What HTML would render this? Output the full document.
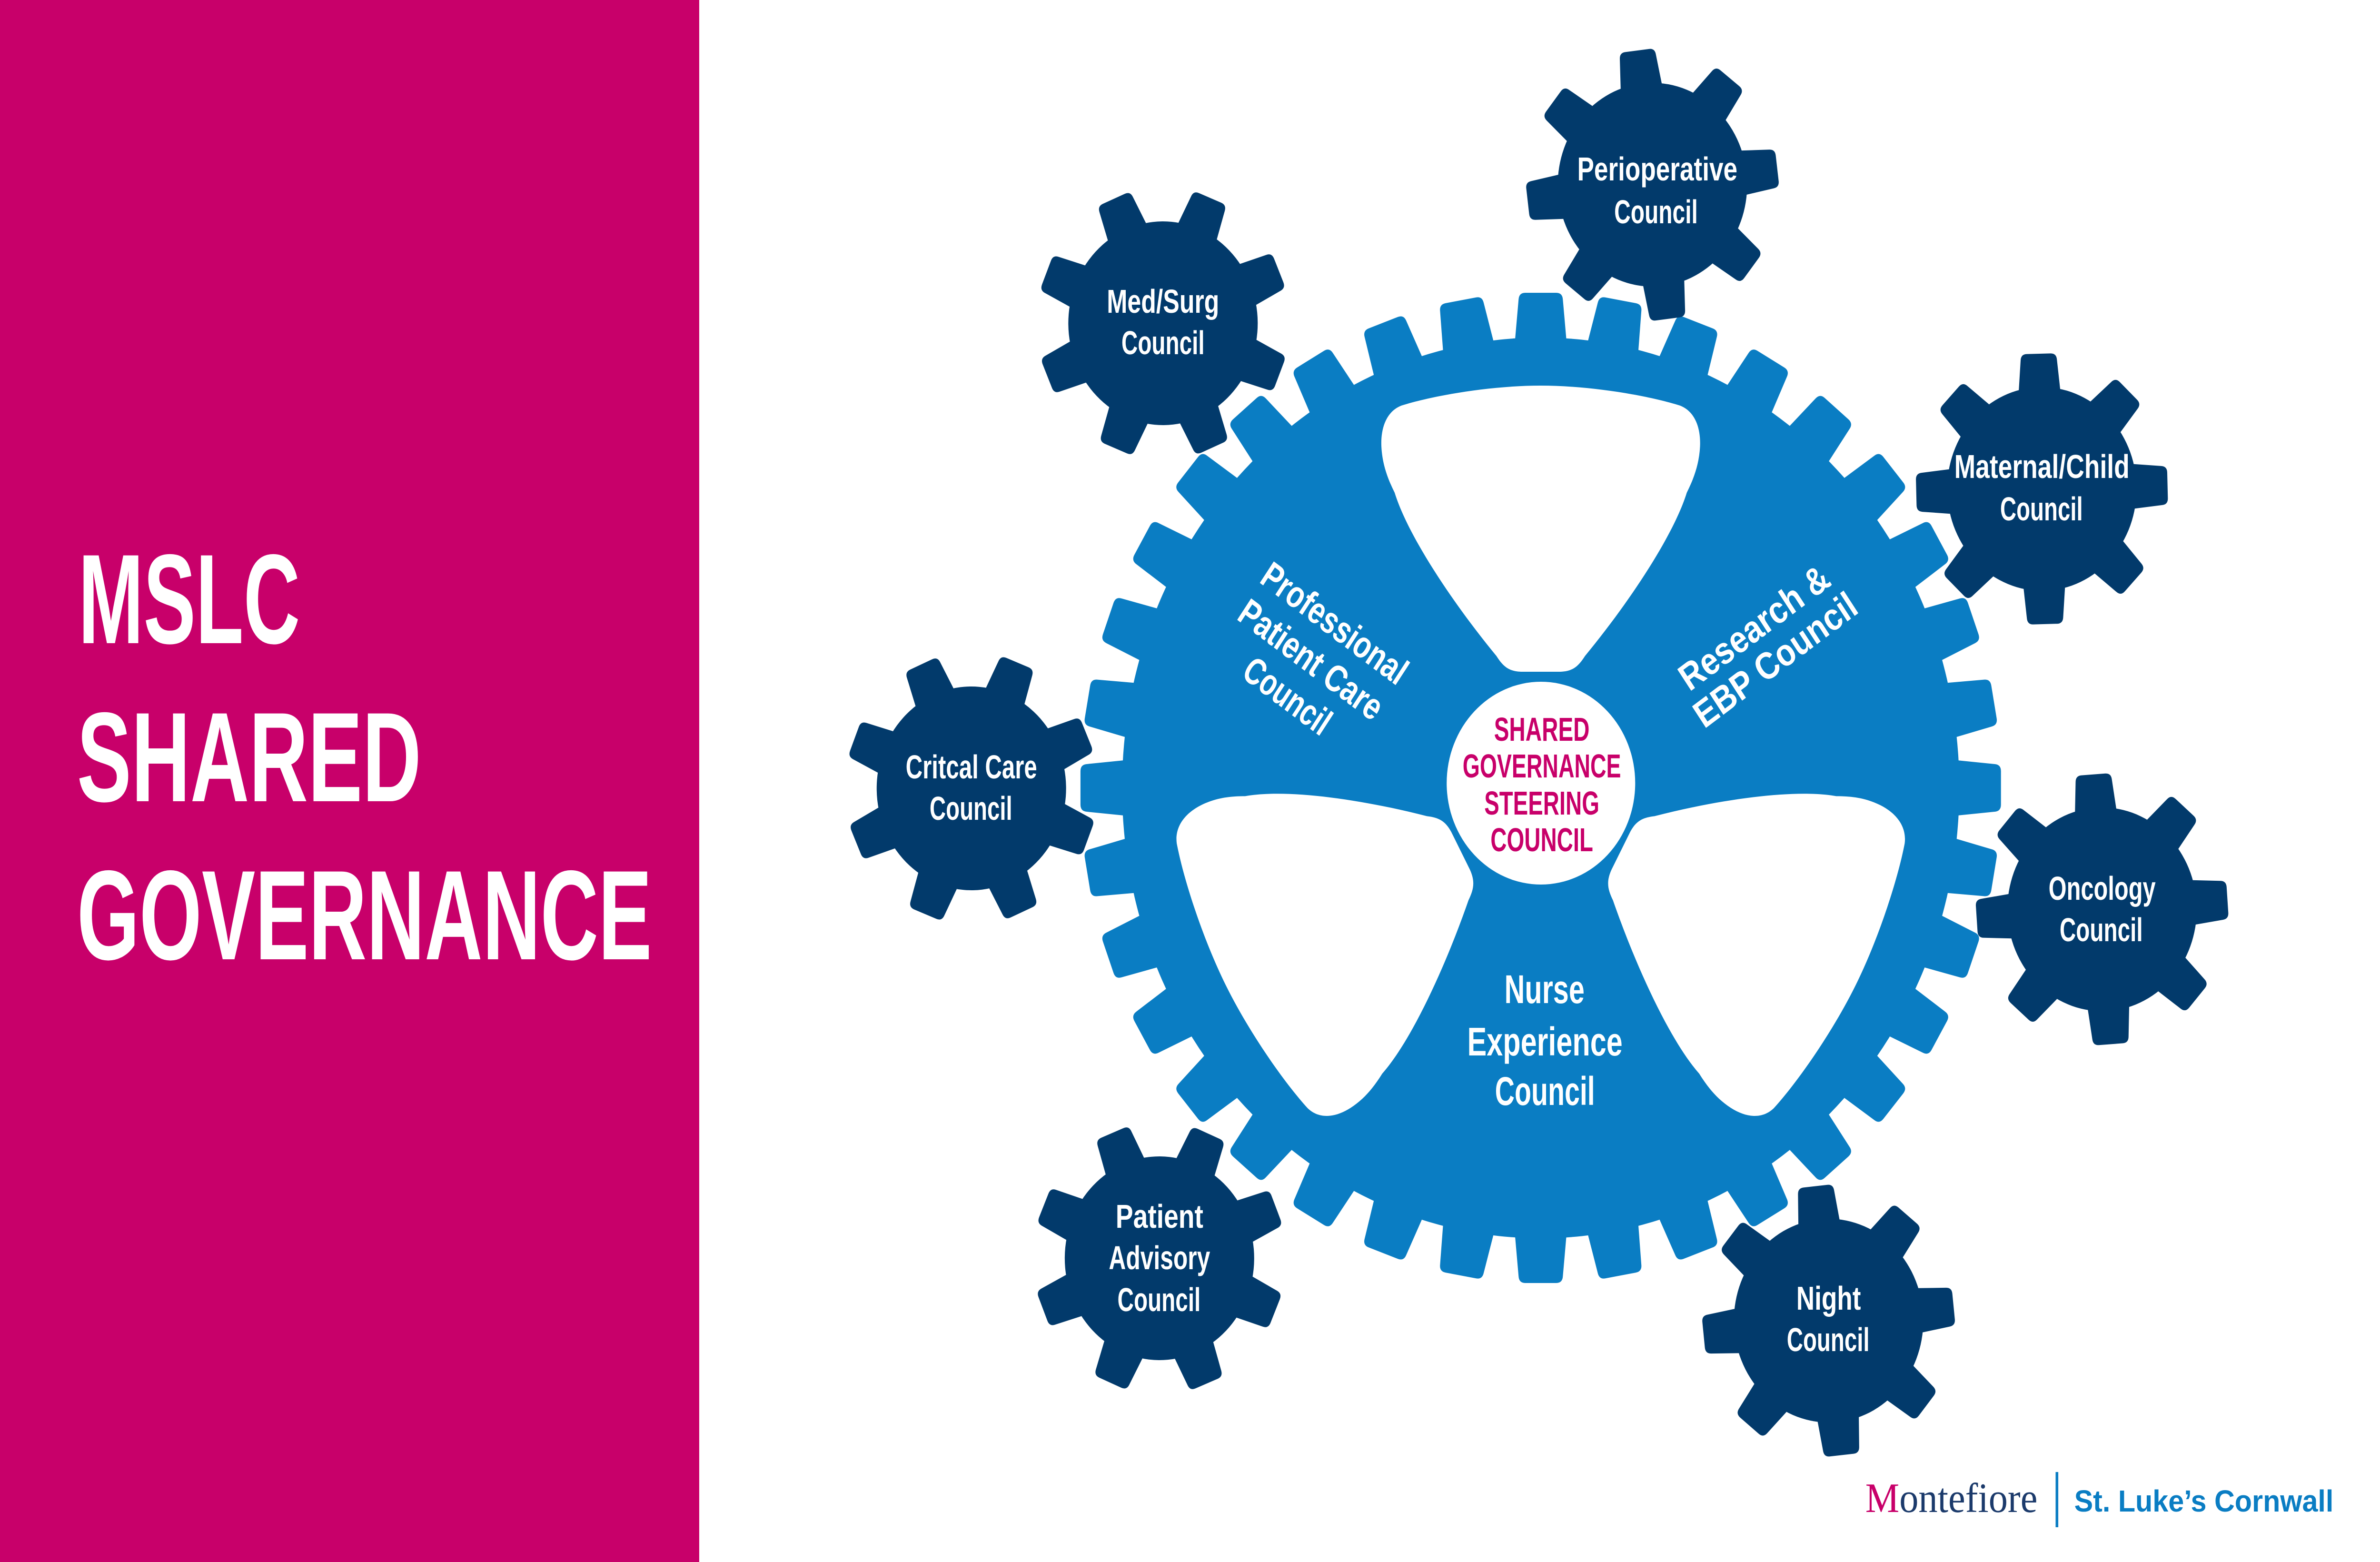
<!DOCTYPE html>
<html>
<head>
<meta charset="utf-8">
<style>
html,body{margin:0;padding:0;width:100%;height:100%;overflow:hidden;background:#ffffff;}
svg{display:block;width:100vw;height:100vh;}
.t{font-family:"Liberation Sans",Arial,sans-serif;font-weight:bold;fill:#ffffff;text-anchor:middle;}
.m{font-family:"Liberation Sans",Arial,sans-serif;font-weight:bold;fill:#c8006a;text-anchor:middle;}
</style>
</head>
<body>
<svg viewBox="0 0 5378 3281" preserveAspectRatio="none" xmlns="http://www.w3.org/2000/svg" xmlns:xlink="http://www.w3.org/1999/xlink">
<defs>
  <path id="bt" d="M3421.5,735 L3431.5,629 Q3432.5,615 3446.5,615 L3516.5,615 Q3530.5,615 3531.5,629 L3541.5,735 Z"/>
  <path id="st" d="M952,805 L959,729 Q960,716 973,716 L1027,716 Q1040,716 1041,729 L1048,805 Z"/>
  <g id="sg" fill="#023a6b">
    <circle cx="1000" cy="1000" r="214"/>
    <use href="#st" xlink:href="#st"/>
    <use href="#st" xlink:href="#st" transform="rotate(45 1000 1000)"/>
    <use href="#st" xlink:href="#st" transform="rotate(90 1000 1000)"/>
    <use href="#st" xlink:href="#st" transform="rotate(135 1000 1000)"/>
    <use href="#st" xlink:href="#st" transform="rotate(180 1000 1000)"/>
    <use href="#st" xlink:href="#st" transform="rotate(225 1000 1000)"/>
    <use href="#st" xlink:href="#st" transform="rotate(270 1000 1000)"/>
    <use href="#st" xlink:href="#st" transform="rotate(315 1000 1000)"/>
  </g>
  <path id="hole" d="M3481.5,810 C3591.5,810 3721.5,830 3796.5,852 C3829.5,864 3843.5,898 3841.5,938 C3839.5,975 3827.5,1005 3811.5,1035 C3781.5,1125 3681.5,1265 3581.5,1378 C3566.5,1400 3553.5,1410 3526.5,1411 L3436.5,1411 C3409.5,1410 3396.5,1400 3381.5,1378 C3281.5,1265 3181.5,1125 3151.5,1035 C3135.5,1005 3123.5,975 3121.5,938 C3119.5,898 3133.5,864 3166.5,852 C3241.5,830 3371.5,810 3481.5,810 Z"/>
</defs>

<!-- Left magenta panel -->
<rect x="0" y="0" width="1580" height="3281" fill="#c8006a"/>
<text x="177" y="1351" font-family="Liberation Sans, Arial, sans-serif" font-weight="bold" font-size="268" fill="#ffffff" textLength="501" lengthAdjust="spacingAndGlyphs">MSLC</text>
<text x="174" y="1683" font-family="Liberation Sans, Arial, sans-serif" font-weight="bold" font-size="268" fill="#ffffff" textLength="778" lengthAdjust="spacingAndGlyphs">SHARED</text>
<text x="174" y="2015" font-family="Liberation Sans, Arial, sans-serif" font-weight="bold" font-size="268" fill="#ffffff" textLength="1299" lengthAdjust="spacingAndGlyphs">GOVERNANCE</text>

<!-- Big gear -->
<g fill="#0a7dc3">
  <circle cx="3481.5" cy="1655" r="946"/>
  <use href="#bt" xlink:href="#bt"/>
  <use href="#bt" xlink:href="#bt" transform="rotate(10 3481.5 1655)"/>
  <use href="#bt" xlink:href="#bt" transform="rotate(20 3481.5 1655)"/>
  <use href="#bt" xlink:href="#bt" transform="rotate(30 3481.5 1655)"/>
  <use href="#bt" xlink:href="#bt" transform="rotate(40 3481.5 1655)"/>
  <use href="#bt" xlink:href="#bt" transform="rotate(50 3481.5 1655)"/>
  <use href="#bt" xlink:href="#bt" transform="rotate(60 3481.5 1655)"/>
  <use href="#bt" xlink:href="#bt" transform="rotate(70 3481.5 1655)"/>
  <use href="#bt" xlink:href="#bt" transform="rotate(80 3481.5 1655)"/>
  <use href="#bt" xlink:href="#bt" transform="rotate(90 3481.5 1655)"/>
  <use href="#bt" xlink:href="#bt" transform="rotate(100 3481.5 1655)"/>
  <use href="#bt" xlink:href="#bt" transform="rotate(110 3481.5 1655)"/>
  <use href="#bt" xlink:href="#bt" transform="rotate(120 3481.5 1655)"/>
  <use href="#bt" xlink:href="#bt" transform="rotate(130 3481.5 1655)"/>
  <use href="#bt" xlink:href="#bt" transform="rotate(140 3481.5 1655)"/>
  <use href="#bt" xlink:href="#bt" transform="rotate(150 3481.5 1655)"/>
  <use href="#bt" xlink:href="#bt" transform="rotate(160 3481.5 1655)"/>
  <use href="#bt" xlink:href="#bt" transform="rotate(170 3481.5 1655)"/>
  <use href="#bt" xlink:href="#bt" transform="rotate(180 3481.5 1655)"/>
  <use href="#bt" xlink:href="#bt" transform="rotate(190 3481.5 1655)"/>
  <use href="#bt" xlink:href="#bt" transform="rotate(200 3481.5 1655)"/>
  <use href="#bt" xlink:href="#bt" transform="rotate(210 3481.5 1655)"/>
  <use href="#bt" xlink:href="#bt" transform="rotate(220 3481.5 1655)"/>
  <use href="#bt" xlink:href="#bt" transform="rotate(230 3481.5 1655)"/>
  <use href="#bt" xlink:href="#bt" transform="rotate(240 3481.5 1655)"/>
  <use href="#bt" xlink:href="#bt" transform="rotate(250 3481.5 1655)"/>
  <use href="#bt" xlink:href="#bt" transform="rotate(260 3481.5 1655)"/>
  <use href="#bt" xlink:href="#bt" transform="rotate(270 3481.5 1655)"/>
  <use href="#bt" xlink:href="#bt" transform="rotate(280 3481.5 1655)"/>
  <use href="#bt" xlink:href="#bt" transform="rotate(290 3481.5 1655)"/>
  <use href="#bt" xlink:href="#bt" transform="rotate(300 3481.5 1655)"/>
  <use href="#bt" xlink:href="#bt" transform="rotate(310 3481.5 1655)"/>
  <use href="#bt" xlink:href="#bt" transform="rotate(320 3481.5 1655)"/>
  <use href="#bt" xlink:href="#bt" transform="rotate(330 3481.5 1655)"/>
  <use href="#bt" xlink:href="#bt" transform="rotate(340 3481.5 1655)"/>
  <use href="#bt" xlink:href="#bt" transform="rotate(350 3481.5 1655)"/>
</g>
<g fill="#ffffff">
  <use href="#hole" xlink:href="#hole"/>
  <use href="#hole" xlink:href="#hole" transform="translate(-30,25) rotate(118 3481.5 1650)"/>
  <use href="#hole" xlink:href="#hole" transform="translate(30,25) rotate(242 3481.5 1650)"/>
</g>
<circle cx="3482" cy="1645" r="213" fill="#ffffff"/>

<!-- Center text -->
<text class="m" x="3484" y="1556" font-size="70" textLength="216" lengthAdjust="spacingAndGlyphs">SHARED</text>
<text class="m" x="3484" y="1633" font-size="70" textLength="358" lengthAdjust="spacingAndGlyphs">GOVERNANCE</text>
<text class="m" x="3484" y="1711" font-size="70" textLength="260" lengthAdjust="spacingAndGlyphs">STEERING</text>
<text class="m" x="3484" y="1788" font-size="70" textLength="232" lengthAdjust="spacingAndGlyphs">COUNCIL</text>

<!-- Spoke labels -->
<text class="t" x="3490" y="2107" font-size="84" textLength="181" lengthAdjust="spacingAndGlyphs">Nurse</text>
<text class="t" x="3491" y="2217" font-size="84" textLength="351" lengthAdjust="spacingAndGlyphs">Experience</text>
<text class="t" x="3491" y="2321" font-size="84" textLength="226" lengthAdjust="spacingAndGlyphs">Council</text>

<g transform="rotate(35 2963 1385)">
  <text class="t" x="2963" y="1320" font-size="80" textLength="383" lengthAdjust="spacingAndGlyphs">Professional</text>
  <text class="t" x="2963" y="1413" font-size="80" textLength="378" lengthAdjust="spacingAndGlyphs">Patient Care</text>
  <text class="t" x="2963" y="1506" font-size="80" textLength="222" lengthAdjust="spacingAndGlyphs">Council</text>
</g>
<g transform="rotate(-35 3987 1351)">
  <text class="t" x="3987" y="1338" font-size="80" textLength="395" lengthAdjust="spacingAndGlyphs">Research &amp;</text>
  <text class="t" x="3987" y="1421" font-size="80" textLength="430" lengthAdjust="spacingAndGlyphs">EBP Council</text>
</g>

<!-- Small gears -->
<use href="#sg" xlink:href="#sg" transform="translate(2734,-612) rotate(-7 1000 1000)"/>
<use href="#sg" xlink:href="#sg" transform="translate(1628,-321) rotate(22 1000 1000)"/>
<use href="#sg" xlink:href="#sg" transform="translate(3614,27) rotate(-1.5 1000 1000)"/>
<use href="#sg" xlink:href="#sg" transform="translate(1195,656) rotate(21.5 1000 1000)"/>
<use href="#sg" xlink:href="#sg" transform="translate(3750,910) rotate(-4 1000 1000)"/>
<use href="#sg" xlink:href="#sg" transform="translate(1620,1643) rotate(23 1000 1000)"/>
<use href="#sg" xlink:href="#sg" transform="translate(3132,1774) rotate(-6 1000 1000)"/>

<!-- Small gear labels -->
<text class="t" x="3745" y="379" font-size="70" textLength="362" lengthAdjust="spacingAndGlyphs">Perioperative</text>
<text class="t" x="3742" y="469" font-size="70" textLength="189" lengthAdjust="spacingAndGlyphs">Council</text>

<text class="t" x="2628" y="657" font-size="70" textLength="254" lengthAdjust="spacingAndGlyphs">Med/Surg</text>
<text class="t" x="2628" y="744" font-size="70" textLength="188" lengthAdjust="spacingAndGlyphs">Council</text>

<text class="t" x="4614" y="1004" font-size="70" textLength="396" lengthAdjust="spacingAndGlyphs">Maternal/Child</text>
<text class="t" x="4613" y="1093" font-size="70" textLength="187" lengthAdjust="spacingAndGlyphs">Council</text>

<text class="t" x="2195" y="1635" font-size="70" textLength="297" lengthAdjust="spacingAndGlyphs">Critcal Care</text>
<text class="t" x="2194" y="1722" font-size="70" textLength="187" lengthAdjust="spacingAndGlyphs">Council</text>

<text class="t" x="4750" y="1890" font-size="70" textLength="242" lengthAdjust="spacingAndGlyphs">Oncology</text>
<text class="t" x="4748" y="1977" font-size="70" textLength="188" lengthAdjust="spacingAndGlyphs">Council</text>

<text class="t" x="2620" y="2579" font-size="70" textLength="198" lengthAdjust="spacingAndGlyphs">Patient</text>
<text class="t" x="2620" y="2666" font-size="70" textLength="229" lengthAdjust="spacingAndGlyphs">Advisory</text>
<text class="t" x="2619" y="2754" font-size="70" textLength="188" lengthAdjust="spacingAndGlyphs">Council</text>

<text class="t" x="4132" y="2751" font-size="70" textLength="146" lengthAdjust="spacingAndGlyphs">Night</text>
<text class="t" x="4131" y="2838" font-size="70" textLength="187" lengthAdjust="spacingAndGlyphs">Council</text>

<!-- Logo -->
<text x="4215" y="3176" font-family="Liberation Serif, Times New Roman, serif" font-size="88" fill="#1b3a6b" textLength="389" lengthAdjust="spacingAndGlyphs"><tspan fill="#c8006a">M</tspan>ontefiore</text>
<rect x="4645" y="3092" width="6" height="116" fill="#0a7dc3"/>
<text x="4687" y="3175" font-family="Liberation Sans, Arial, sans-serif" font-weight="bold" font-size="64" fill="#0a7dc3" textLength="586" lengthAdjust="spacingAndGlyphs">St. Luke’s Cornwall</text>
</svg>
</body>
</html>
